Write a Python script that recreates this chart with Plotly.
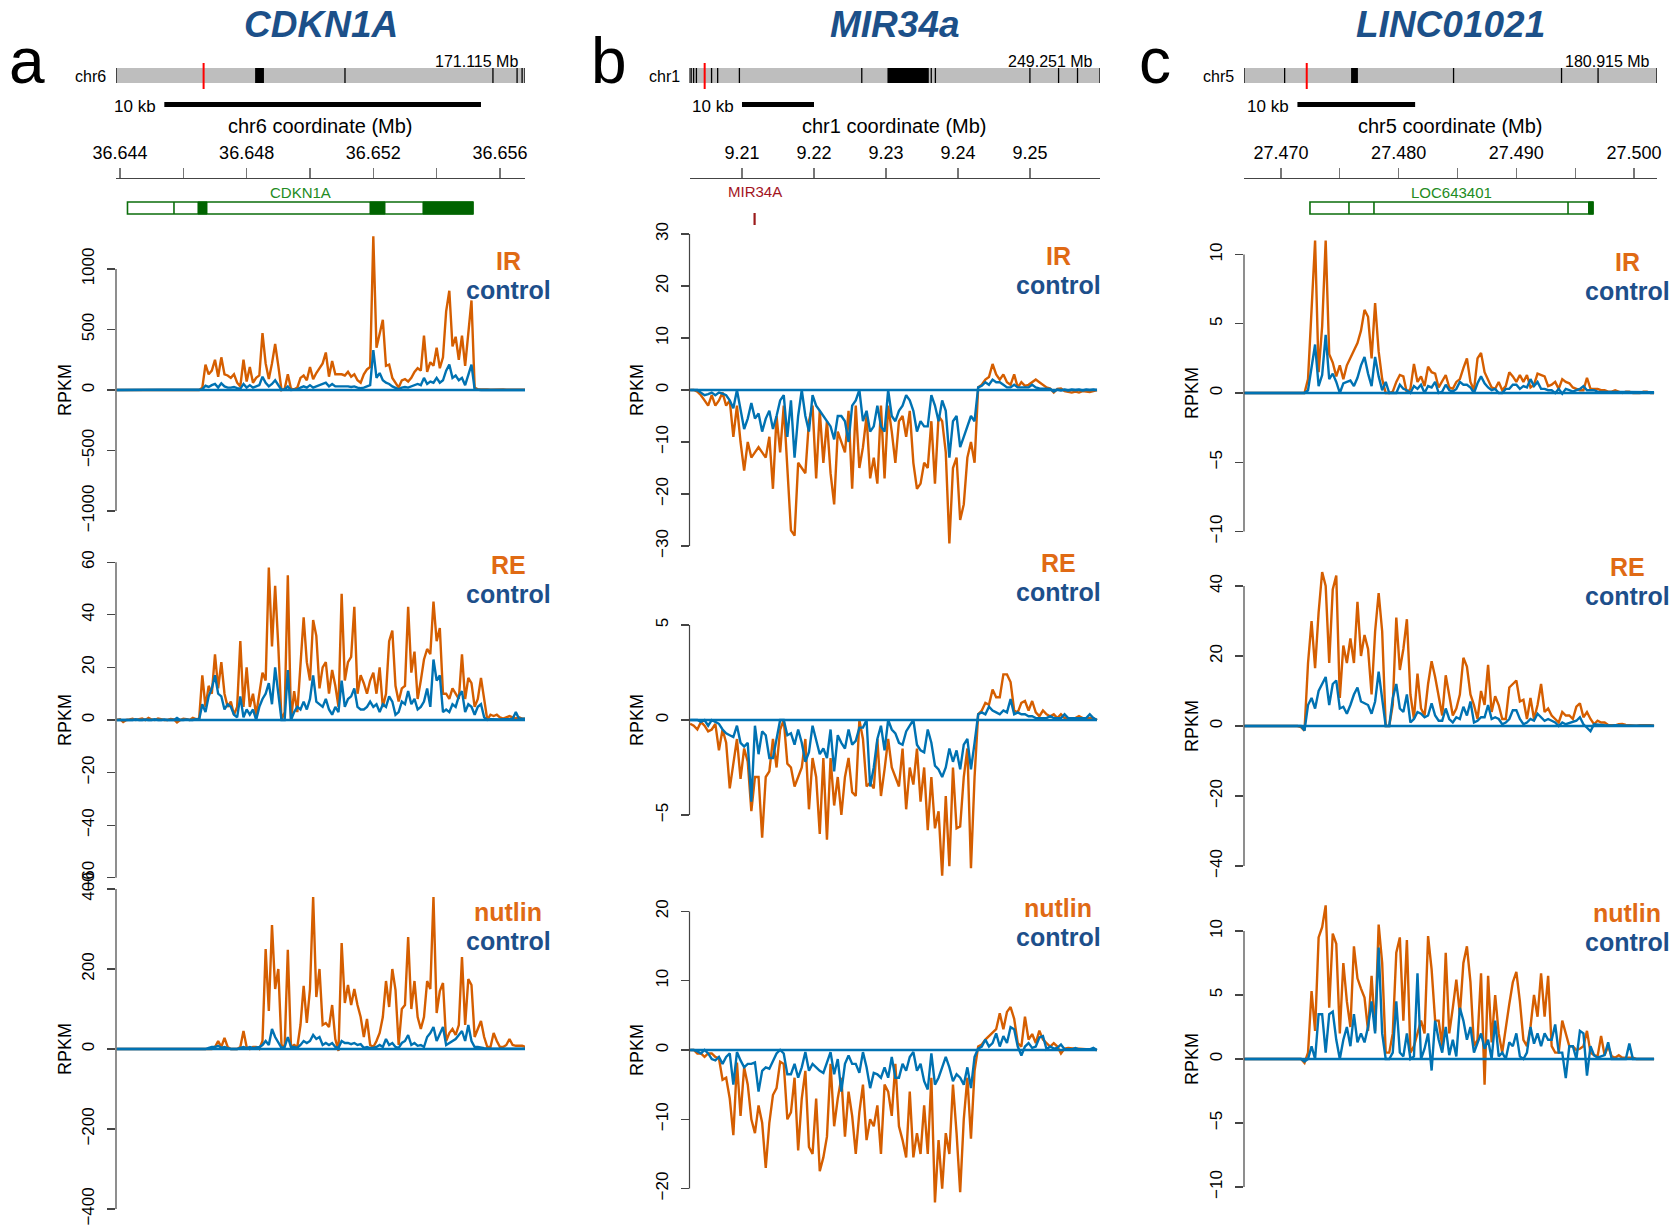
import plotly.graph_objects as go

# ======================= DATA =======================
# --- panel a: CDKN1A (chr6), bins of 0.1 kb ---
A_BIN_START, A_BIN_STEP = 36.6439, 0.0001
A_IR_T = [0]*27 + [20, 210, 130, 160, 250, 110, 270, 130, 120, 100,
    130, 60, 30, 250, 70, 190, 60, 100, 120, 470,
    220, 90, 220, 380, 200, 0, 10, 130, 10, 5,
    20, 100, 120, 80, 190, 90, 140, 180, 220, 310,
    110, 240, 130, 130, 130, 120, 150, 110, 130, 80,
    60, 130, 170, 190, 1270, 350, 480, 580, 200, 210,
    100, 60, 20, 80, 90, 70, 100, 150, 180, 160,
    450, 150, 230, 200, 350, 180, 270, 650, 820, 360,
    440, 250, 450, 200, 500, 740, 20,
    5, 4, 6, 5, 3, 5, 6, 4, 5, 3, 4, 6, 5, 4, 3, 2]
A_IR_C = [0]*27 + [5, 35, 25, 40, 50, 20, 55, 30, 20, 20,
    25, 15, 10, 50, 20, 40, 20, 30, 40, 110,
    60, 30, 50, 80, 40, 0, 5, 30, 0, 0,
    5, 20, 30, 20, 40, 20, 30, 40, 45, 60,
    30, 50, 30, 30, 30, 35, 30, 25, 30, 20,
    15, 20, 30, 40, 330, 100, 140, 80, 60, 50,
    30, 20, 5, 20, 25, 20, 30, 40, 50, 40,
    100, 50, 70, 60, 100, 60, 80, 160, 210, 100,
    120, 80, 100, 40, 120, 210, 5,
    0, 0, 0, 0, 0, 0, 0, 0, 0, 0, 0, 0, 0, 0, 0, 0]
A_RE_T = [0, 0.3, -0.8, 0, 0.2, 0.5, 0, 0.3, 0.6, 0, 0.8, 0.2, 0, 0.6, 0.3, 0, 0, 0.4, 0.2, -0.9,
    0, 0.5, 0.3, 0, 0.8, 0.3, 0.5,
    17, 5, 13, 10, 25, 12, 22, 10, 5, 7,
    2, 5, 30, 5, 20, 5, 10, 2, 10, 18,
    15, 58, 28, 51, 28, 0, 3, 55, 0, 11,
    3, 20, 39, 22, 15, 38, 32, 12, 20, 22,
    10, 19, 13, 5, 48, 15, 22, 24, 43, 10,
    17, 14, 10, 15, 18, 10, 20, 5, 10, 30,
    34, 13, 7, 12, 13, 43, 18, 26, 8, 15,
    23, 27, 25, 45, 30, 35, 10, 10, 8, 12,
    10, 8, 25, 8, 16, 14, 5, 8, 16, 8,
    0, 2, 1.5, 2, 1, 0.5, 1, 1.5, 1, 0.5, 1, 0.5, 0.5]
A_RE_C = [0, 0, 0, 0.2, 0, 0, 0.3, 0, 0, 0.2, 0, 0, 0.3, 0, 0, 0.2, 0, 0, 0, 0.8,
    0, 0, 0.2, 0, 0, 0.3, 0.2,
    6, 3, 9, 12, 17, 10, 9, 4, 6, 5,
    2, 1, 9, 1, 4, 2, 4, 0, 5, 8,
    10, 14, 6, 20, 10, 0, 0, 19, 0, 3,
    5, 4, 7, 4, 8, 17, 7, 6, 5, 8,
    4, 2, 5, 3, 15, 5, 8, 9, 12, 5,
    4, 4, 5, 7, 5, 6, 3, 6, 5, 9,
    7, 2, 3, 7, 6, 11, 6, 8, 4, 5,
    7, 12, 5, 23, 15, 17, 3, 4, 3, 6,
    5, 9, 11, 3, 6, 5, 2, 5, 6, 1,
    0, 0.3, 0.2, 0.3, 0.2, 0.3, 0.2, 0.3, 0.5, 3, 0.5, 0.5, 0.5]
A_NU_T = [0]*31 + [5, 20, 5, 28, 5, 0, 0, 0, 5, 45,
    5, 0, 5, 5, 0, 20, 250, 95, 310, 150,
    200, 10, 5, 248, 5, 10, 5, 60, 158, 65,
    150, 380, 130, 200, 60, 65, 55, 110, 25, -5,
    265, 115, 160, 110, 150, 110, 80, 30, 75, 10,
    5, 20, 40, 80, 170, 105, 200, 148, 10, 100,
    110, 280, 100, 170, 80, 50, 80, 170, 150, 380,
    90, 145, 165, 20, 40, 50, 35, 60, 230, 60,
    175, 160, 30, 50, 70, 30, 5, 5, 40, 20,
    5, 5, 10, 25, 10, 8, 8, 8, 5]
A_NU_C = [0]*29 + [3, 5, 5, 8, 3, 5, 2, 0, 0, 0,
    3, 5, 2, 5, 2, 3, 5, 10, 20, 10,
    50, 30, 15, 3, 5, 30, 5, 5, 3, 10,
    20, 15, 20, 35, 25, 30, 10, 15, 10, 15,
    5, 3, 20, 15, 15, 12, 15, 10, 12, 3,
    5, 2, 3, 5, 10, 5, 25, 10, 15, 5,
    3, 15, 20, 35, 10, 15, 8, 10, 5, 30,
    40, 55, 20, 40, 55, 10, 15, 20, 25, 35,
    45, 20, 60, 20, 5, 5, 3, 2, 1, 1,
    1, 1, 1, 1, 1, 1, 1, 1, 1, 1, 1]

# --- panel b: MIR34a (chr1), bins of 0.5 kb ---
B_BIN_START, B_BIN_STEP = 9.2028, 0.0005
B_IR_T = [0, 0, -0.3, -1, -2, -3, -1, -3, -2, -0.5,
    -3, -2, -9, -3, -10, -15.5, -10, -13, -12, -11,
    -12, -13, -9, -19, -5, -12, -3, -14, -27, -28,
    -14, -15, -16, -6, -3, -17, -4, -14, -6, -16,
    -22, -8, -10, -12, -4, -19, -3, -15, -11, -5,
    -17, -13, -18, -3, -17, -3, -8, -14, -6, -5,
    -9, -4, -14, -19, -18, -14, -15, -6, -18, -5,
    -6, -12, -29.5, -15, -13, -25, -22, -13, -10, -14,
    0.5, 1, 2, 2.5, 5, 3, 2, 3, 1.5, 1,
    3, 0.5, 1.5, 0.8, 1, 1.5, 2, 1.5, 1, 0.5,
    0.3, -0.5, 0.2, 0.3, -0.2, -0.3, -0.5, -0.3, -0.5, -0.2, -0.3, -0.4, -0.2, 0]
B_IR_C = [0, 0, 0, -0.5, -1, -0.8, -0.5, -1, -0.5, -0.7,
    -1, -2, -3.5, 0, -4, -7.5, -5.5, -2.5, -5.5, -4.5,
    -8, -5.5, -4, -7.5, -5, -2, -1, -9, -2, -13,
    -5, 0, -5, -8, -1, -3, -4, -5, -6, -7,
    -9.5, -5, -5, -6, -10, -3, -2, 0, -6, -4,
    -8, -7, -3, -7, -8, 0, -5, -6, -4, -3,
    -1, -2, -4, -8, -6, -7, -7, -1, -3, -6,
    -2, -4, -13, -6, -5, -11, -9, -7, -5, -6,
    0.5, 0.8, 1.5, 1, 2, 1.5, 1.5, 1, 0.5, 0.5,
    1, 0.5, 0.5, 0.5, 0.5, 1, 0.5, 0.3, 0.3, 0.2,
    0.2, -0.3, 0.1, -0.1, 0.1, -0.1, 0.1, 0, 0.1, -0.1, 0.1, 0, 0.1, 0]
B_RE_T = [-0.2, -0.3, -0.5, -0.1, -0.3, -0.6, -0.5, -0.2, -1.6, -0.5,
    -1.2, -3.6, -2.3, -1, -3.1, -1.5, -2.2, -4.8, -3, -3,
    -6.2, -3, -2.7, -1, -2.5, -0.5, 0, -2.3, -2.5, -3.5,
    -3, -2.5, -1, -4.7, -2, -3, -6, -2, -6.3, -2,
    -4.5, -3, -5, -3, -2, -3.8, -4, 0, -1, -3.5,
    -3.3, -3.6, -1, -4, -2.6, -1, -2.5, -3, -3.5, -1.5,
    -4.7, -2.5, -3.4, -1.5, -4.3, -2.5, -5.8, -3, -5.7, -4.8,
    -8.2, -4, -7.7, -2.5, -5.7, -5.6, -3, -1.5, -7.8, -3,
    0.3, 0.5, 0.9, 0.8, 1.6, 1.2, 1.2, 2.4, 2.4, 2,
    0.5, 0.4, 0.9, 1, 0.5, 1, 0.4, 0.2, 0.5, 0.3,
    0.2, 0.3, 0.1, 0.3, 0.1, 0.1, 0.1, 0.1, 0.2, 0.1, 0.1, 0.1, 0.1, 0]
B_RE_C = [0, 0, 0, -0.1, 0, -0.3, 0, -0.1, -0.2, -0.5,
    -0.7, -0.8, -0.9, -0.3, -1.2, -1.4, -1.2, -4.3, -0.3, -1.8,
    -0.6, -0.8, -2, -2, -1, 0, 0, -0.8, -0.7, -1.3,
    -0.5, -1.2, -2.2, -1.7, -0.3, -1, -1.8, -1.5, -2, -0.5,
    -2.7, -0.8, -1.2, -1.5, -0.5, -1.3, -1.1, -0.4, -0.4, 0,
    -3.5, -2.5, -1, -0.3, -1.6, 0, -0.5, -0.7, -1.2, -1.3,
    -0.6, -0.3, 0, -1.3, -1.6, -1.7, -0.5, -1.2, -2.4, -2.6,
    -3, -2.5, -1.5, -2.2, -1.6, -2.6, -1.3, -1, -2.6, -1.2,
    0.3, 0.4, 0.3, 0.7, 0.5, 0.4, 0.3, 0.5, 0.4, 1.1,
    0.3, 0.4, 0.3, 0.3, 0.2, 0.2, 0.1, 0.1, 0.1, 0.1,
    0.2, 0.1, 0.1, 0.1, 0.3, 0.1, 0.1, 0.1, 0.1, 0.1, 0.1, 0.3, 0.1, 0]
B_NU_T = [0, 0, -0.5, -0.5, -1, -0.5, -0.5, -1, -1.2, -4.3,
    -4, -7, -12.3, -1.8, -9.5, -2.5, -5, -10, -12, -8,
    -10.5, -17, -10.5, -6.5, -5.5, -1.7, -2, -10, -9, -4,
    -14.5, -7, -3, -14, -15, -7, -17.5, -15.5, -12.5, -2,
    -11, -7, -4, -12.5, -6, -9.5, -15, -9, -5, -13,
    -10, -11, -8, -15, -5, -6, -9.5, -2, -11, -13,
    -15.5, -6, -15.5, -12, -15, -8, -15, -4, -22, -13,
    -20, -12, -15, -5, -12, -20.5, -10, -4, -12.8, -3,
    0.5, 0.8, 1.5, 2, 2.5, 3, 5.3, 3, 5.5, 6.2,
    4.5, 1, 0.5, 4.8, 1.5, 2.3, 1, 2.8, 1.5, 1,
    0.5, 1, 0.5, -0.5, 0.2, 0.3, 0.2, 0.2, 0.2, 0.1, 0.1, 0.1, 0.1, 0]
B_NU_C = [0, 0, -0.2, -0.5, 0, -0.5, -1.3, -1.5, -1, -2,
    -1, -0.5, -5, -0.3, -1.5, -2.5, -2, -2, -1.8, -6,
    -3, -2.5, -2.7, -1.5, -0.5, 0, -0.5, -3.5, -3.5, -2,
    -4, -2.5, -0.3, -3, -2, -2.5, -3, -3.3, -1.8, -0.3,
    -3.5, -1.3, -6, -2, -0.8, -2, -2, -3.3, -0.3, -2.5,
    -5.5, -3.3, -3.5, -4, -2.5, -4, -1, -4, -4, -2,
    -3, -1, -0.3, -3, -2, -4.5, -5.7, -0.5, -5, -4,
    -2.5, -1, -2.5, -4.5, -3.5, -4, -5, -2.5, -5.5, -1,
    0.2, 0.5, 1.5, 0.5, 1, 2.4, 0.5, 2, 1, 3.3,
    3, 0.5, -0.8, 0.5, 1, 0.3, 0.5, 1.8, 2, 0.1,
    0.5, 0.2, 0.3, 0.8, 0.1, 0.1, 0.1, 0.3, 0.1, 0.1, 0.1, 0.1, 0.3, 0]

# --- panel c: LINC01021 (chr5), bins of 0.3 kb ---
C_BIN_START, C_BIN_STEP = 27.4669, 0.0003
C_IR_T = [0]*18 + [1, 6, 11, 1.5, 4.8, 11, 2.8, 2.2, 1.2, 2, 1, 2,
    2.5, 3, 3.6, 4.5, 6, 5.5, 2.5, 6.5, 3, 1,
    0, 0, 0.1, 0.8, 1.3, 1.2, 0, 0.3, 2.1, 0.8,
    1.2, 0.5, 1.9, 1.5, 1.4, 0.4, 0.8, 1.3, 0.4, 0.3,
    0.8, 1, 1.8, 2.5, 0.8, 0.2, 2.5, 2.9, 1.5, 1,
    0.4, 0.3, 0.8, 0.2, 0.5, 1.5, 1.2, 0.8, 1.3, 0.8,
    1.3, 0.4, 0.6, 1.4, 1.3, 1.2, 0.5, 0.6, 0.8, 0.3,
    1, 0.8, 0.7, 0.4, 0.3, 0.2, 0.2, 1.1, 0.3, 0.3,
    0.3, 0.2, 0.2, 0.1, 0.1, 0.2, 0.1, 0, 0.1, 0.1, 0, 0, 0, 0.1, 0.1, 0, 0]
C_IR_C = [0]*18 + [0.2, 2, 3.5, 0.5, 1.3, 4.2, 1, 1.4, 0.8, 0, 0.7, 0.8,
    0.9, 0.5, 1.1, 2, 2.6, 1.4, 0.5, 2.6, 1.2, 0.2,
    0.8, 0, 0, 0, 0.6, 0.3, 0.2, 0, 0.5, 0.3,
    0.6, 0, 0.5, 0.4, 0.8, 0, 0.1, 0.6, 0.2, 0.1,
    0.3, 0.8, 0.6, 0.6, 0.4, 0, 0.7, 1.2, 0.7, 0.4,
    0.2, 0.3, 0, 0, 0.3, 0.3, 0.6, 0.6, 0.3, 0.5,
    0.4, 1, 0.5, 0.8, 0.3, 0.3, 0.2, 0.2, 0, 0.3,
    -0.05, 0.3, 0.2, 0.1, 0.2, 0.3, 0.5, 0.2, 0.2, 0.2,
    0.1, 0.1, 0.1, 0.05, 0.05, 0.05, 0.05, 0.05, 0.05, 0.05, 0.05, 0.05, 0.05, 0.05, 0.05, 0.05, 0.05]
C_RE_T = [0]*16 + [-0.3, -1.3, 18, 30, 16.5, 32.5, 44, 40, 18, 39, 43, 8,
    23, 18, 25, 18, 35.5, 20, 26, 22, 9, 27, 38, 27,
    0, 0, 6, 31, 16, 22, 30.5, 9, 2, 15,
    5, 3, 12, 18.5, 14, 8, 3, 14.5, 8.5, 3,
    5, 9, 19.5, 17, 9, 6, 2, 10, 6, 17.5,
    4, 8.5, 6, 2, 2, 11, 12, 13, 7, 7.5,
    2, 8, 2, 6, 12, 4, 5, 3, 2, 1,
    4, 3, 3, 2, 5.5, 6.5, 2.5, 4, 2, 0.5,
    1.5, 1, 1, 0.3, 0.2, 0.2, 0.5, 0.6, 0.3, 0.2, 0.1, 0.1, 0.2, 0.3, 0.2, 0.2, 0.1]
C_RE_C = [0]*16 + [0, -1.3, 6, 8, 5, 10, 12, 14, 6, 12, 13, 5,
    5.5, 3.5, 6, 9, 11, 7, 6.5, 6, 3.5, 7, 15.5, 8,
    0, 0, 8, 12, 5, 4, 9, 1, 2, 4,
    3.5, 2.5, 3, 6.5, 3, 1.5, 1.5, 5, 2, 1,
    2.5, 2, 5.5, 3, 7, 1, 1.5, 2.5, 2.5, 6,
    2, 2.5, 2, 0.5, 1, 2, 4.5, 4.5, 2, 0.5,
    1, 2, 1.5, 3.5, 2.5, 1.5, 2, 1.5, 1, 0,
    1, 0.5, 0.8, 1, 1.5, 2.5, 0.5, -0.5, -1.5, 0.5,
    0.5, 0.3, 0.2, 0.1, 0.1, 0.2, 0.1, 0, 0.1, 0.1, 0.1, 0.1, 0.1, 0.1, 0.1, 0.2, 0.1]
C_NU_T = [0]*17 + [-0.3, 0.5, 5.3, 2.2, 9.5, 10.3, 12, 4, 9.8, 9, 2, 7.5, 4.5, 2.5, 8.8,
    6.3, 5.5, 4.8, 2.2, 6.5, 2.2, 10.5, 7.5, 0.5,
    0.5, 2, 8.3, 9.5, 3, 9.3, 0.5, 1, 2, 3,
    2, 9.6, 7, 3, 3, 1, 8.3, 2, 4, 6.2,
    3.5, 7.5, 8.8, 6, 1, 1.5, 6.7, -2, 6.5, 1.3,
    5, 2, 0.5, 2.5, 4.3, 6, 6.8, 4.5, 1.5, 1,
    2.5, 5, 3.3, 6.7, 3.3, 6.5, 1, 0.5, 0.5, 3,
    2, 1, 1, 0.7, 0.8, 1, 2.2, 0.5, 0.3, 0.2,
    1.8, 0.3, 1, 0.2, 0.1, 0.3, 0.1, 0.1, 0.1, 0.1, 0, 0, 0, 0, 0, 0]
C_NU_C = [0]*17 + [-0.2, 0, 1, 0, 3.5, 3.5, 0.5, 3.5, 3.7, 1.5, 0, 1.5, 2.5, 1, 3.5,
    1.3, 2, 1.3, 2.5, 4.5, 2, 8.7, 2, 0,
    0, 0.5, 4.5, 0.5, 0.2, 2, 0, 0.2, 6.7, 0,
    0.8, 2, -0.9, 3, 1.5, 0.5, 2.5, 0.3, 1.5, 0.2,
    4, 3, 1.5, 2.5, 0.5, 1.2, 2, 0.8, 1.5, 0,
    3, 0.2, 0.5, 0, 1.3, 1, 2, 0.2, 0, 0.5,
    2.5, 1.2, 2, 1, 2, 1.5, 1.5, 2.7, 0.5, 0.5,
    -1.5, 1, 1, 0, 2.2, 2, -1.3, 1, 0.3, 0.1,
    0.2, 0.3, 1.3, 0, 0, 0, 0, 0, 1.2, 0, 0, 0, 0, 0, 0, 0]

# --- header (ideogram / gene model) values ---
CHR_LEN = {"chr6": 171.115, "chr1": 249.251, "chr5": 180.915}
IDEO_BANDS = {"chr6": [(58.2, 61.9)], "chr1": [(120.2, 145.3)], "chr5": [(46.9, 49.9)]}
IDEO_LINES = {"chr6": [0, 95.8, 157.7, 167.8, 169.9, 171.115],
              "chr1": [0, 1.0, 2.5, 4.2, 13.4, 17.1, 30.3, 104.6, 146.8, 149.3, 206.7, 224.1, 235.6, 249.251],
              "chr5": [0, 17.8, 91.8, 139.1, 155.1, 180.915]}
IDEO_MARK = {"chr6": 36.65, "chr1": 9.21, "chr5": 27.48}
A_TICKS = [36.644, 36.646, 36.648, 36.650, 36.652, 36.654, 36.656]
A_TICKLABELS = ["36.644", "", "36.648", "", "36.652", "", "36.656"]
B_TICKS = [9.21, 9.22, 9.23, 9.24, 9.25]
B_TICKLABELS = ["9.21", "9.22", "9.23", "9.24", "9.25"]
C_TICKS = [27.470, 27.475, 27.480, 27.485, 27.490, 27.495, 27.500]
C_TICKLABELS = ["27.470", "", "27.480", "", "27.490", "", "27.500"]
SCALEBAR_START = {"a": 36.6454, "b": 9.2100, "c": 27.4714}
SCALEBAR_LEN = 0.01
GENE_A = dict(name="CDKN1A", start=36.644237, end=36.655147, dividers=[36.645705],
              coding=[(36.646463, 36.646747), (36.651895, 36.652368), (36.653568, 36.655147)])
GENE_B = dict(name="MIR34A", pos=9.21175)
GENE_C = dict(name="LOC643401", start=27.472465, end=27.496515,
              dividers=[27.475779, 27.477903, 27.494390], coding=[(27.496133, 27.496515)])

# ======================= STYLE / LAYOUT =======================
W, H = 1676, 1228
FONT = "Liberation Sans, Arial, Helvetica, sans-serif"
ORANGE = "#D55E00"
BLUE = "#0072B2"
LAB_OR = "#E06A14"
LAB_BL = "#1D4F8B"
TITLE_C = "#1C5089"
AX_C = "#444444"


def pxx(p):
    return p / W


def pxy(p):
    return 1 - p / H


def minus(v):
    return str(v).replace("-", "\u2212")


PANELS = [
    dict(key="a", title="CDKN1A", chrom="chr6", xpx=(116, 525), grange=(36.643874, 36.65679),
         ticks=A_TICKS, ticklabels=A_TICKLABELS, gene=GENE_A, gene_kind="box",
         letter_x=27, lab_x=508, rpkm_x=65,
         bins=(A_BIN_START, A_BIN_STEP),
         tracks=[("IR", A_IR_T, A_IR_C, 390, 0.121, [-1000, -500, 0, 500, 1000], (225, 522), 261),
                 ("RE", A_RE_T, A_RE_C, 720, 2.63, [-60, -40, -20, 0, 20, 40, 60], (540, 885), 565),
                 ("nutlin", A_NU_T, A_NU_C, 1049, 0.4, [-400, -200, 0, 200, 400], (870, 1222), 912)]),
    dict(key="b", title="MIR34a", chrom="chr1", xpx=(689.5, 1100), grange=(9.20271, 9.25972),
         ticks=B_TICKS, ticklabels=B_TICKLABELS, gene=GENE_B, gene_kind="mir",
         letter_x=609, lab_x=1058, rpkm_x=637,
         bins=(B_BIN_START, B_BIN_STEP),
         tracks=[("IR", B_IR_T, B_IR_C, 390, 5.2, [-30, -20, -10, 0, 10, 20, 30], (215, 560), 256),
                 ("RE", B_RE_T, B_RE_C, 720, 19.0, [-5, 0, 5], (540, 885), 563),
                 ("nutlin", B_NU_T, B_NU_C, 1050, 6.93, [-20, -10, 0, 10, 20], (880, 1215), 908)]),
    dict(key="c", title="LINC01021", chrom="chr5", xpx=(1244, 1657), grange=(27.46686, 27.50195),
         ticks=C_TICKS, ticklabels=C_TICKLABELS, gene=GENE_C, gene_kind="box",
         letter_x=1155, lab_x=1627, rpkm_x=1192,
         bins=(C_BIN_START, C_BIN_STEP),
         tracks=[("IR", C_IR_T, C_IR_C, 393, 13.85, [-10, -5, 0, 5, 10], (225, 545), 262),
                 ("RE", C_RE_T, C_RE_C, 726, 3.5, [-40, -20, 0, 20, 40], (545, 880), 567),
                 ("nutlin", C_NU_T, C_NU_C, 1059, 12.8, [-10, -5, 0, 5, 10], (880, 1215), 913)]),
]

fig = go.Figure()
axes = {}
shapes = []
annots = []
counter = [0]


def new_axes():
    counter[0] += 1
    n = counter[0]
    return "" if n == 1 else str(n)


def ann(text, x, y, size, color="black", xref="paper", yref="paper", **kw):
    d = dict(text=text, x=x, y=y, xref=xref, yref=yref, showarrow=False,
             xanchor="center", yanchor="middle",
             font=dict(family=FONT, size=size, color=color))
    d.update(kw)
    annots.append(d)


def dummy(s, x, y):
    fig.add_trace(go.Scatter(x=[x], y=[y], mode="markers", marker=dict(opacity=0, size=1),
                             xaxis="x" + s, yaxis="y" + s, hoverinfo="skip", showlegend=False))


for P in PANELS:
    x0px, x1px = P["xpx"]
    xdom = [pxx(x0px), pxx(x1px)]
    xc = (x0px + x1px) / 2
    chrom = P["chrom"]
    clen = CHR_LEN[chrom]

    # ---- title and panel letter ----
    ann("<b><i>%s</i></b>" % P["title"], pxx(xc), pxy(24), 37, TITLE_C)
    ann(P["key"], pxx(P["letter_x"]), pxy(61), 64, "black")

    # ---- ideogram ----
    s = new_axes()
    axes["xaxis" + s] = dict(domain=xdom, range=[0, clen], visible=False, anchor="y" + s, automargin=False)
    axes["yaxis" + s] = dict(domain=[pxy(95), pxy(58)], range=[0, 1], visible=False, anchor="x" + s,
                             automargin=False)
    dummy(s, 0, 0.5)
    xr = "x" + s
    shapes.append(dict(type="rect", xref=xr, yref="paper", x0=0, x1=clen, y0=pxy(83), y1=pxy(68),
                       fillcolor="#BEBEBE", line=dict(width=0), layer="above"))
    for b0, b1 in IDEO_BANDS[chrom]:
        shapes.append(dict(type="rect", xref=xr, yref="paper", x0=b0, x1=b1, y0=pxy(83), y1=pxy(68),
                           fillcolor="black", line=dict(width=0)))
    for lx in IDEO_LINES[chrom]:
        shapes.append(dict(type="line", xref=xr, yref="paper", x0=lx, x1=lx, y0=pxy(83), y1=pxy(68),
                           line=dict(color="black", width=1.3)))
    m = IDEO_MARK[chrom]
    shapes.append(dict(type="line", xref=xr, yref="paper", x0=m, x1=m, y0=pxy(89), y1=pxy(63),
                       line=dict(color="#FF0000", width=2)))
    ann(chrom, 0, pxy(76), 16, xref=xr, xanchor="right", xshift=-8)
    ann("%.3f Mb" % clen, clen, pxy(61), 16, xref=xr, xanchor="right", xshift=-5)

    # ---- genomic coordinate axis + gene model ----
    s = new_axes()
    xr = "x" + s
    axes["xaxis" + s] = dict(domain=xdom, range=list(P["grange"]), side="top", anchor="y" + s,
                             showline=True, linecolor=AX_C, linewidth=1.2, ticks="outside", ticklen=10,
                             tickwidth=1.2, tickcolor="#777777", tickvals=P["ticks"], ticktext=P["ticklabels"],
                             tickfont=dict(family=FONT, size=18, color="black"), showgrid=False,
                             zeroline=False, ticklabelstandoff=2, automargin=False)
    axes["yaxis" + s] = dict(domain=[pxy(232), pxy(179)], range=[0, 1], visible=False, anchor=xr,
                             automargin=False)
    dummy(s, P["grange"][0], 0.5)
    ann("%s coordinate (Mb)" % chrom, pxx(xc), pxy(126), 20)
    sb = SCALEBAR_START[P["key"]]
    shapes.append(dict(type="line", xref=xr, yref="paper", x0=sb, x1=sb + SCALEBAR_LEN,
                       y0=pxy(104.5), y1=pxy(104.5), line=dict(color="black", width=5)))
    ann("10 kb", sb, pxy(106), 17, xref=xr, xanchor="right", xshift=-6)
    g = P["gene"]
    if P["gene_kind"] == "box":
        shapes.append(dict(type="rect", xref=xr, yref="paper", x0=g["start"], x1=g["end"],
                           y0=pxy(214), y1=pxy(202), fillcolor="white",
                           line=dict(color="#0B6E0B", width=1.6)))
        for dv in g["dividers"]:
            shapes.append(dict(type="line", xref=xr, yref="paper", x0=dv, x1=dv, y0=pxy(214), y1=pxy(202),
                               line=dict(color="#0B6E0B", width=1.6)))
        for c0, c1 in g["coding"]:
            shapes.append(dict(type="rect", xref=xr, yref="paper", x0=c0, x1=c1, y0=pxy(214), y1=pxy(202),
                               fillcolor="#006400", line=dict(color="#006400", width=1)))
        ann(g["name"], (g["start"] + g["end"]) / 2, pxy(193), 15, "#228B22", xref=xr)
    else:
        shapes.append(dict(type="line", xref=xr, yref="paper", x0=g["pos"], x1=g["pos"],
                           y0=pxy(225), y1=pxy(213), line=dict(color="#9B1B1B", width=2.2)))
        ann(g["name"], g["pos"], pxy(192), 15, "#A3141E", xref=xr)

    # ---- signal tracks ----
    bstart, bstep = P["bins"]
    for (lab, tvals, cvals, zero_px, k, ticks, dom, lab_y) in P["tracks"]:
        s = new_axes()
        xr, yr = "x" + s, "y" + s
        top, bot = dom
        vtop = (zero_px - top) / k
        vbot = (zero_px - bot) / k
        axes["xaxis" + s] = dict(domain=xdom, range=list(P["grange"]), visible=False, anchor=yr,
                                 automargin=False)
        axes["yaxis" + s] = dict(domain=[pxy(bot), pxy(top)], range=[vbot, vtop], anchor=xr,
                                 showline=False, showgrid=False, zeroline=False, ticks="outside",
                                 ticklen=8, tickwidth=1.2, tickcolor=AX_C, tickvals=ticks,
                                 ticktext=[minus(t) for t in ticks], tickangle=-90,
                                 tickfont=dict(family=FONT, size=17, color="black"),
                                 ticklabelstandoff=6, automargin=False)
        tb = [bstart + i * bstep for i in range(len(tvals))]
        cb = [bstart + i * bstep for i in range(len(cvals))]
        fig.add_trace(go.Scatter(x=tb, y=tvals, mode="lines", line=dict(color=ORANGE, width=2.4),
                                 xaxis=xr, yaxis=yr, hoverinfo="skip", showlegend=False))
        fig.add_trace(go.Scatter(x=cb, y=cvals, mode="lines", line=dict(color=BLUE, width=2.4),
                                 xaxis=xr, yaxis=yr, hoverinfo="skip", showlegend=False))
        fig.add_trace(go.Scatter(x=[cb[0], cb[-1]], y=[0, 0], mode="lines",
                                 line=dict(color=BLUE, width=2.4),
                                 xaxis=xr, yaxis=yr, hoverinfo="skip", showlegend=False))
        shapes.append(dict(type="line", xref=xr + " domain", yref=yr, x0=0, x1=0,
                           y0=min(ticks), y1=max(ticks), line=dict(color=AX_C, width=1.2)))
        ann("RPKM", pxx(P["rpkm_x"]), 0, 18, yref=yr, textangle=-90)
        ann("<b>%s</b>" % lab, pxx(P["lab_x"]), pxy(lab_y), 25, LAB_OR)
        ann("<b>control</b>", pxx(P["lab_x"]), pxy(lab_y + 29), 25, LAB_BL)

fig.update_layout(width=W, height=H, margin=dict(l=0, r=0, t=0, b=0, autoexpand=False),
                  paper_bgcolor="white", plot_bgcolor="rgba(0,0,0,0)",
                  showlegend=False, shapes=shapes, annotations=annots,
                  font=dict(family=FONT), **axes)
fig.write_html("out.html", config={"displayModeBar": False, "staticPlot": True},
               post_script="document.body.style.margin='0px';document.body.style.overflow='hidden';")
